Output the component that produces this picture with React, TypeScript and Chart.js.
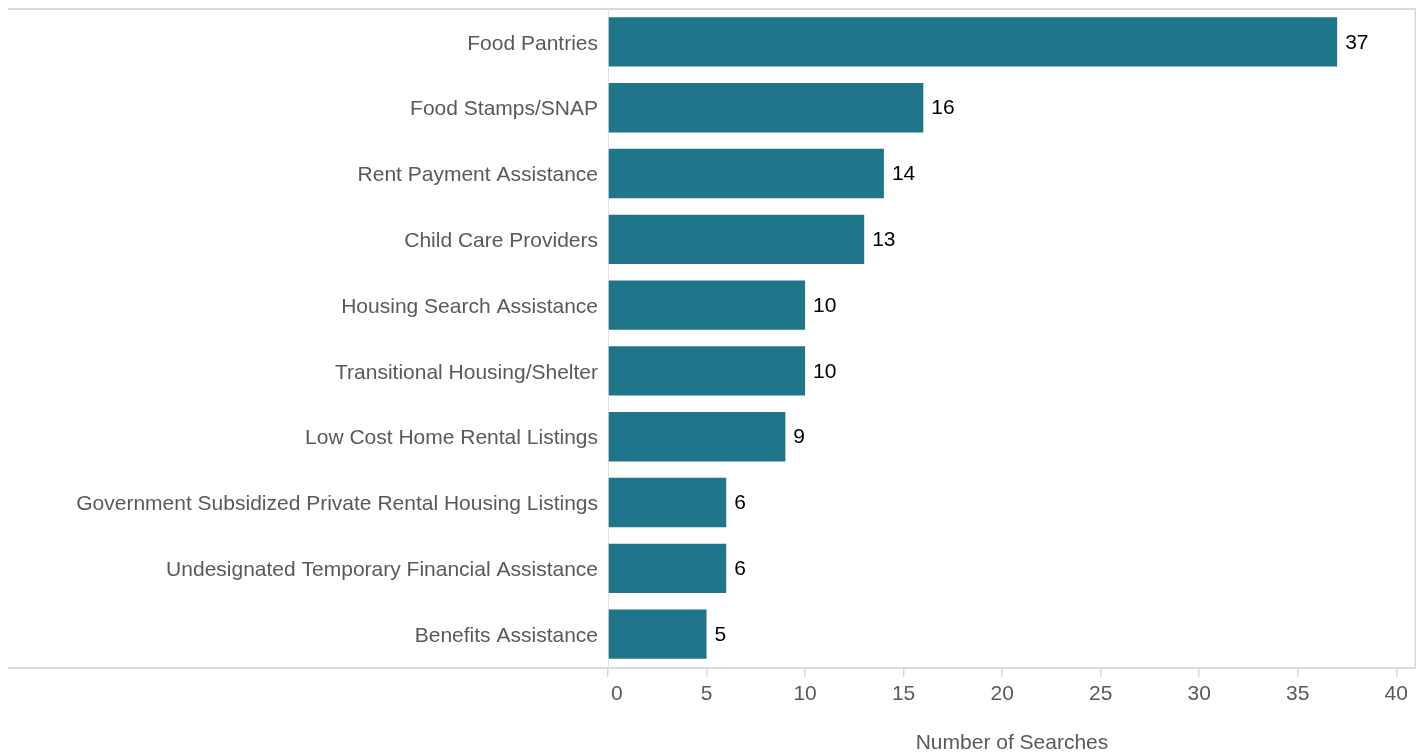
import React, { useEffect, useRef } from "react";
import { Chart, registerables } from "chart.js";

Chart.register(...registerables);

const categories: string[] = [
  "Food Pantries",
  "Food Stamps/SNAP",
  "Rent Payment Assistance",
  "Child Care Providers",
  "Housing Search Assistance",
  "Transitional Housing/Shelter",
  "Low Cost Home Rental Listings",
  "Government Subsidized Private Rental Housing Listings",
  "Undesignated Temporary Financial Assistance",
  "Benefits Assistance",
];

const searches: number[] = [37, 16, 14, 13, 10, 10, 9, 6, 6, 5];

const xTickValues: number[] = [0, 5, 10, 15, 20, 25, 30, 35, 40];

const FONT = "'Liberation Sans', Arial, Helvetica, sans-serif";
const BAR = "#1f768b";
const GRAY_TEXT = "#595959";
const LINE = "#dadada";

const framePlugin = {
  id: "frameLines",
  beforeDatasetsDraw(chart: any) {
    const { ctx, chartArea } = chart;
    ctx.save();
    ctx.strokeStyle = LINE;
    ctx.lineWidth = 2;
    ctx.beginPath();
    ctx.moveTo(0, chartArea.top);
    ctx.lineTo(chartArea.right, chartArea.top);
    ctx.stroke();
    ctx.beginPath();
    ctx.moveTo(0, chartArea.bottom + 1);
    ctx.lineTo(chartArea.right, chartArea.bottom + 1);
    ctx.stroke();
    ctx.lineWidth = 1.5;
    ctx.beginPath();
    ctx.moveTo(chartArea.right - 0.75, chartArea.top);
    ctx.lineTo(chartArea.right - 0.75, chartArea.bottom + 2);
    ctx.stroke();
    ctx.strokeStyle = "#e2e2e2";
    ctx.lineWidth = 1;
    ctx.beginPath();
    ctx.moveTo(chartArea.left + 0.5, chartArea.top);
    ctx.lineTo(chartArea.left + 0.5, chartArea.bottom + 2);
    ctx.stroke();
    ctx.restore();
  },
};

const valueLabelPlugin = {
  id: "valueLabels",
  afterDatasetsDraw(chart: any) {
    const { ctx } = chart;
    const meta = chart.getDatasetMeta(0);
    const data = chart.data.datasets[0].data as number[];
    ctx.save();
    ctx.fillStyle = "#000000";
    ctx.font = `21px ${FONT}`;
    ctx.textAlign = "left";
    ctx.textBaseline = "middle";
    meta.data.forEach((bar: any, i: number) => {
      ctx.fillText(String(data[i]), bar.x + 8, bar.y + 1);
    });
    ctx.restore();
  },
};

export default function App() {
  const canvasRef = useRef<HTMLCanvasElement | null>(null);

  useEffect(() => {
    if (!canvasRef.current) return;
    const chart = new Chart(canvasRef.current, {
      type: "bar",
      data: {
        labels: categories,
        datasets: [
          {
            label: "Number of Searches",
            data: searches,
            backgroundColor: BAR,
            borderWidth: 0,
            barPercentage: 0.75,
            categoryPercentage: 1,
          },
        ],
      },
      options: {
        indexAxis: "y",
        animation: false,
        responsive: false,
        devicePixelRatio: 1,
        layout: { padding: { top: 1, right: 2, left: 0, bottom: 0 } },
        plugins: {
          legend: { display: false },
          tooltip: { enabled: false },
        },
        scales: {
          x: {
            type: "linear",
            min: 0,
            max: 41,
            afterBuildTicks(scale: any) {
              scale.ticks = xTickValues.map((v) => ({ value: v }));
            },
            afterFit(scale: any) {
              scale.height = 87;
              scale.paddingLeft = 0;
              scale.paddingRight = 0;
            },
            grid: {
              display: true,
              drawOnChartArea: false,
              drawTicks: true,
              tickLength: 10,
              color: LINE,
              lineWidth: 1.5,
            },
            border: { display: false },
            ticks: {
              font: { family: FONT, size: 21 },
              color: GRAY_TEXT,
              padding: 5,
              maxRotation: 0,
              callback: (v: any) => (Number(v) === 0 ? "   0" : String(v)),
            },
            title: {
              display: true,
              text: "Number of Searches",
              font: { family: FONT, size: 21, lineHeight: 1 },
              color: GRAY_TEXT,
              padding: { top: 0, bottom: 0 },
            },
          },
          y: {
            type: "category",
            afterFit(scale: any) {
              scale.width = 600;
              scale.paddingTop = 0;
              scale.paddingBottom = 0;
            },
            grid: { display: false, drawTicks: false },
            border: { display: false },
            ticks: {
              font: { family: FONT, size: 21 },
              color: GRAY_TEXT,
              padding: 10,
              labelOffset: 2,
              autoSkip: false,
            },
          },
        },
      },
      plugins: [framePlugin, valueLabelPlugin],
    });
    return () => chart.destroy();
  }, []);

  return (
    <div style={{ position: "fixed", left: 8, top: 8, width: 1410, height: 746 }}>
      <canvas ref={canvasRef} width={1410} height={746} style={{ display: "block" }} />
    </div>
  );
}
